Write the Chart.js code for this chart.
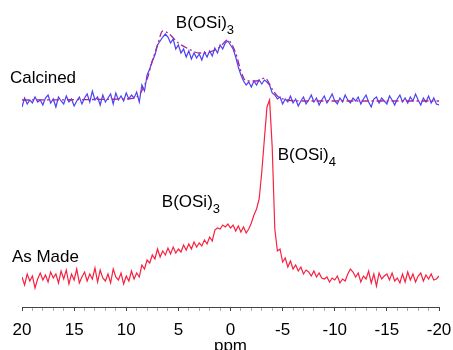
<!DOCTYPE html>
<html lang="en">
<head>
    <meta charset="UTF-8">
    <title>11B MAS NMR</title>
    <script src="https://cdn.jsdelivr.net/npm/chart.js@4/dist/chart.umd.min.js"></script>
    <style>
        body {
            margin: 0;
            overflow: hidden;
            background: white;
        }
        #wrap {
            width: 453px;
            height: 354px;
            position: relative;
        }
    </style>
</head>
<body>
    <div id="wrap">
        <canvas id="nmr"></canvas>
    </div>

    <script>
        // chemical shift grid, ppm (0.25 ppm steps, 20 -> -20)
        const ppm = [
            20, 19.75, 19.5, 19.25, 19, 18.75, 18.5, 18.25, 18, 17.75, 17.5, 17.25,
            17, 16.75, 16.5, 16.25, 16, 15.75, 15.5, 15.25, 15, 14.75, 14.5, 14.25,
            14, 13.75, 13.5, 13.25, 13, 12.75, 12.5, 12.25, 12, 11.75, 11.5, 11.25,
            11, 10.75, 10.5, 10.25, 10, 9.75, 9.5, 9.25, 9, 8.75, 8.5, 8.25,
            8, 7.75, 7.5, 7.25, 7, 6.75, 6.5, 6.25, 6, 5.75, 5.5, 5.25,
            5, 4.75, 4.5, 4.25, 4, 3.75, 3.5, 3.25, 3, 2.75, 2.5, 2.25,
            2, 1.75, 1.5, 1.25, 1, 0.75, 0.5, 0.25, 0, -0.25, -0.5, -0.75,
            -1, -1.25, -1.5, -1.75, -2, -2.25, -2.5, -2.75, -3, -3.25, -3.5, -3.75,
            -4, -4.25, -4.5, -4.75, -5, -5.25, -5.5, -5.75, -6, -6.25, -6.5, -6.75,
            -7, -7.25, -7.5, -7.75, -8, -8.25, -8.5, -8.75, -9, -9.25, -9.5, -9.75,
            -10, -10.25, -10.5, -10.75, -11, -11.25, -11.5, -11.75, -12, -12.25, -12.5, -12.75,
            -13, -13.25, -13.5, -13.75, -14, -14.25, -14.5, -14.75, -15, -15.25, -15.5, -15.75,
            -16, -16.25, -16.5, -16.75, -17, -17.25, -17.5, -17.75, -18, -18.25, -18.5, -18.75,
            -19, -19.25, -19.5, -19.75, -20
        ];

        // calcined sample (offset upwards)
        const calcined = [
            200, 209, 203, 207, 204, 210, 205, 207, 202, 209, 212, 204,
            208, 200, 210, 206, 203, 211, 205, 208, 201, 206, 210, 203,
            209, 213, 205, 216, 207, 210, 202, 212, 205, 209, 213, 203,
            214, 207, 211, 206, 214, 208, 212, 209, 215, 205, 222, 216,
            232, 238, 246, 252, 262, 266, 270, 273, 270, 264, 268, 258,
            262, 254, 258, 250, 256, 248, 254, 249, 253, 247, 255, 250,
            256, 251, 259, 254, 262, 258, 264, 266, 262, 258, 250, 240,
            232, 226, 222, 225, 220, 226, 222, 227, 223, 227, 225, 222,
            214, 212, 208, 210, 203, 208, 205, 211, 204, 208, 201, 206,
            210, 203, 207, 212, 205, 209, 202, 207, 211, 204, 208, 213,
            206, 203, 209, 205, 212, 207, 204, 209, 206, 210, 203, 208,
            212, 205, 200, 208, 210, 204, 209, 206, 203, 211, 207, 202,
            208, 212, 205, 209, 204, 210, 206, 213, 207, 202, 209, 205,
            211, 204, 209, 203, 202
        ];

        // simulated fit of the calcined spectrum
        const fitPpm = [20, 10, 9, 8, 7.5, 7, 6.5, 6, 5, 4, 3, 2, 1, 0.3, -0.5, -1, -1.5, -2.5, -3.3, -4, -4.5, -5.5, -7, -20];
        const fitCalcined = [207, 208, 210, 228, 246, 262, 276, 274, 264, 258, 254, 255, 260, 267, 254, 236, 226, 226, 229, 218, 211, 207, 206, 206];

        // as made sample
        const asMade = [
            30, 22, 33, 26, 31, 19, 28, 34, 27, 32, 25, 35,
            29, 33, 24, 36, 28, 37, 23, 33, 27, 38, 24, 30,
            35, 26, 33, 28, 39, 25, 37, 29, 26, 33, 24, 38,
            30, 27, 34, 23, 31, 26, 36, 28, 34, 30, 42, 38,
            47, 44, 52, 48, 58, 50, 56, 52, 59, 53, 60, 54,
            58, 55, 62, 57, 63, 58, 65, 60, 64, 61, 67, 63,
            70, 66, 77, 79, 78, 82, 80, 83, 79, 82, 76, 81,
            75, 80, 74, 78, 84, 92, 98, 108, 135, 168, 200, 207,
            160, 78, 56, 58, 45, 49, 40, 46, 38, 42, 36, 40,
            33, 37, 35, 31, 36, 30, 34, 29, 28, 30, 25, 29,
            27, 31, 24, 28, 26, 33, 38, 35, 30, 34, 25, 31,
            28, 36, 24, 33, 21, 34, 28, 31, 33, 27, 34, 26,
            29, 24, 33, 25, 35, 27, 33, 25, 31, 34, 26, 32,
            28, 33, 27, 28, 31
        ];

        // text labels: text, subscript, ppm position, intensity position
        const labelText = ['Calcined', 'B(OSi)', 'As Made', 'B(OSi)', 'B(OSi)'];
        const labelSub = ['', '3', '', '3', '4'];
        const labelPpm = [21.16, 5.24, 20.97, 6.59, -4.53];
        const labelY = [229, 284, 50, 105, 152];
        const axisTitle = 'ppm';

        const FONT = "Arial, 'Liberation Sans', sans-serif";

        function pairs(xs, ys) {
            return xs.map((x, i) => ({ x: x, y: ys[i] }));
        }

        const labelPlugin = {
            id: 'peakLabels',
            afterDatasetsDraw(chart) {
                const ctx = chart.ctx;
                const xs = chart.scales.x, ys = chart.scales.y;
                ctx.save();
                ctx.fillStyle = '#000';
                ctx.textBaseline = 'middle';
                ctx.textAlign = 'left';
                for (let i = 0; i < labelText.length; i++) {
                    const px = xs.getPixelForValue(labelPpm[i]);
                    const py = ys.getPixelForValue(labelY[i]);
                    ctx.font = '17px ' + FONT;
                    ctx.fillText(labelText[i], px, py);
                    if (labelSub[i]) {
                        const w = ctx.measureText(labelText[i]).width;
                        ctx.font = '13px ' + FONT;
                        ctx.fillText(labelSub[i], px + w, py + 7);
                    }
                }
                // axis title sits tight under the tick labels
                ctx.font = '17px ' + FONT;
                ctx.textAlign = 'center';
                ctx.fillText(axisTitle, (xs.left + xs.right) / 2, xs.top + 39);
                ctx.restore();
            }
        };

        new Chart(document.getElementById('nmr'), {
            type: 'line',
            data: {
                datasets: [
                    {
                        label: 'Fit',
                        data: pairs(fitPpm, fitCalcined),
                        borderColor: 'rgb(165, 40, 150)',
                        borderWidth: 1.3,
                        borderDash: [7, 3, 2, 3],
                        pointRadius: 0,
                        tension: 0.4,
                        cubicInterpolationMode: 'monotone'
                    },
                    {
                        label: 'Calcined',
                        data: pairs(ppm, calcined),
                        borderColor: 'rgb(75, 65, 245)',
                        borderWidth: 1.2,
                        pointRadius: 0,
                        tension: 0
                    },
                    {
                        label: 'As Made',
                        data: pairs(ppm, asMade),
                        borderColor: 'rgb(245, 35, 65)',
                        borderWidth: 1.2,
                        pointRadius: 0,
                        tension: 0
                    }
                ]
            },
            options: {
                responsive: true,
                maintainAspectRatio: false,
                animation: false,
                layout: {
                    padding: { left: 22, right: 14, top: 7, bottom: 5 }
                },
                plugins: {
                    legend: { display: false },
                    tooltip: { enabled: false }
                },
                scales: {
                    x: {
                        type: 'linear',
                        reverse: true,
                        min: -20,
                        max: 20,
                        afterFit: (scale) => {
                            scale.paddingLeft = 0;
                            scale.paddingRight = 0;
                        },
                        border: { display: true, color: '#444', width: 1 },
                        grid: {
                            drawOnChartArea: false,
                            drawTicks: true,
                            tickLength: 4,
                            tickColor: (c) => (c.tick && c.tick.value % 5 === 0) ? '#444' : '#aaa'
                        },
                        ticks: {
                            stepSize: 1,
                            autoSkip: false,
                            maxRotation: 0,
                            padding: 10.5,
                            color: '#000',
                            font: { family: FONT, size: 17, lineHeight: 1 },
                            callback: (v) => (v % 5 === 0) ? String(v) : ''
                        }
                    },
                    y: {
                        display: false,
                        min: 0,
                        max: 300
                    }
                }
            },
            plugins: [labelPlugin]
        });
    </script>
</body>
</html>
